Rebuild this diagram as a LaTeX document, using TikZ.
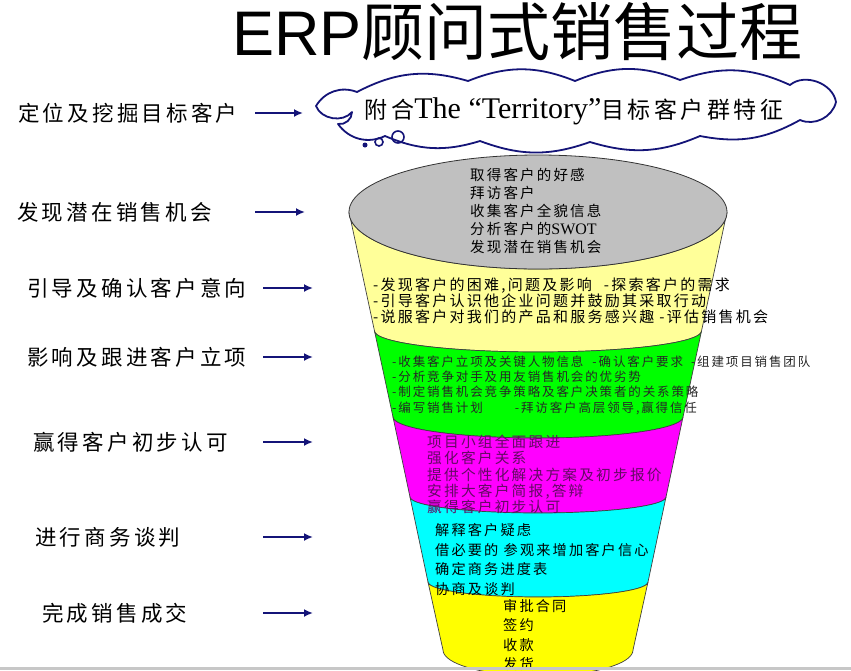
\documentclass[tikz,border=0pt]{standalone}
\usepackage{fontspec}
\setmainfont{Liberation Serif}
\setsansfont{Liberation Sans}
\newfontfamily\cjk{Noto Sans CJK SC}
\newfontfamily\cjkw[LetterSpace=15]{Noto Sans CJK SC}
\usetikzlibrary{arrows.meta}
\definecolor{navy}{RGB}{20,20,120}
\definecolor{paleyellow}{RGB}{255,255,153}
\definecolor{topgray}{RGB}{192,192,192}
\definecolor{bandgreen}{RGB}{0,255,0}
\definecolor{bandmagenta}{RGB}{255,0,255}
\definecolor{bandcyan}{RGB}{0,255,255}
\definecolor{bandyellow}{RGB}{255,255,0}
\definecolor{darkpurple}{RGB}{100,10,100}
\tikzset{
  arr/.style={draw=navy, line width=2.4pt, -{Latex[length=9pt,width=8pt]}},
  lbl/.style={anchor=west, inner sep=0pt, font=\cjkw\fontsize{21.5}{24}\selectfont},
  band/.style={draw=black!75, line width=0.7pt},
  arcpl/.style={domain=180:0, samples=40},
  txt/.style={anchor=west, inner sep=0pt, align=left}
}

\begin{document}
\begin{tikzpicture}[x=1pt, y=-1pt]
\useasboundingbox (0,0) rectangle (851,670);
\fill[white] (0,0) rectangle (851,670);
\node[anchor=base west, inner sep=0pt, font=\fontsize{63}{66}\selectfont] (title) at (232,55) {{\sffamily ERP}{\cjk 顾问式销售过程}};

% cloud
\draw[navy, fill=white, line width=1.8pt, line join=round] (357,92) to[bend left=22] (468,81) to[bend left=22] (575,81) to[bend left=22] (680,80) to[bend left=22] (790,85) to[bend left=60] (836,102) to[bend left=50] (800,120) to[bend left=20] (700,136) to[bend left=20] (590,142) to[bend left=20] (480,141) to[bend left=20] (385,136) to[bend left=40] (338,124) to[bend right=50] (352,112) to[bend left=60] (316,106) to[bend left=40] cycle;
\node[inner sep=0pt] (ctext) at (574,111) {\cjkw\fontsize{23}{26}\selectfont 附合{\rmfamily\fontsize{30}{32}\selectfont The “Territory”}目标客户群特征};
\fill[navy] (365,145) circle (2.5pt);
\draw[navy, line width=1.6pt] (379,142) circle (4pt);
\draw[navy, line width=1.6pt] (398,137) circle (6pt);

% funnel bands
\filldraw[band, fill=paleyellow] (349,212) -- (374.5,331) -- plot[arcpl] ({538+163.5*cos(\x)},{331+21*sin(\x)}) -- (727,212) -- plot[arcpl, domain=0:180] ({538+189*cos(\x)},{212+57*sin(\x)}) -- cycle;
\filldraw[band, fill=bandgreen] (374.5,331) -- (393,417) -- plot[arcpl] ({538+145*cos(\x)},{417+21*sin(\x)}) -- (701.5,331) -- plot[arcpl, domain=0:180] ({538+163.5*cos(\x)},{331+21*sin(\x)}) -- cycle;
\filldraw[band, fill=bandmagenta] (393,417) -- (410,497) -- plot[arcpl] ({538+128*cos(\x)},{497+16*sin(\x)}) -- (683,417) -- plot[arcpl, domain=0:180] ({538+145*cos(\x)},{417+21*sin(\x)}) -- cycle;
\filldraw[band, fill=bandcyan] (410,497) -- (428,582) -- plot[arcpl] ({538+110*cos(\x)},{582+15*sin(\x)}) -- (666,497) -- plot[arcpl, domain=0:180] ({538+128*cos(\x)},{497+16*sin(\x)}) -- cycle;
\filldraw[band, fill=bandyellow] (428,582) -- (443,650) -- plot[arcpl] ({538+95*cos(\x)},{650+26*sin(\x)}) -- (648,582) -- plot[arcpl, domain=0:180] ({538+110*cos(\x)},{582+15*sin(\x)}) -- cycle;
\filldraw[fill=topgray, draw=black!80, line width=0.8pt] (538,212) ellipse [x radius=189pt, y radius=57pt];

% texts in the funnel
\node[txt, font=\cjkw\fontsize{14.5}{18}\selectfont] (top) at (470,211) {取得客户的好感\\拜访客户\\收集客户全貌信息\\分析客户的{\rmfamily\fontsize{16}{18}\selectfont SWOT}\\发现潜在销售机会};
\node[txt, font=\cjkw\fontsize{15}{16}\selectfont] (find) at (373,301) {-发现客户的困难,问题及影响\hspace{12pt}-探索客户的需求\\-引导客户认识他企业问题并鼓励其采取行动\\-说服客户对我们的产品和服务感兴趣\hspace{5pt}-评估销售机会};
\node[txt, font=\cjkw\fontsize{12.5}{15.3}\selectfont, text=black!85] (lead) at (392,385) {-收集客户立项及关键人物信息\hspace{9pt}-确认客户要求\hspace{8pt}-组建项目销售团队\\-分析竞争对手及用友销售机会的优劣势\\-制定销售机会竞争策略及客户决策者的关系策略\\-编写销售计划\hspace{32pt}-拜访客户高层领导,赢得信任};
\node[txt, font=\cjkw\fontsize{14.7}{16.25}\selectfont, text=darkpurple] (follow) at (427,474.5) {项目小组全面跟进\\强化客户关系\\提供个性化解决方案及初步报价\\安排大客户简报,答辩\\赢得客户初步认可};
\node[txt, font=\cjkw\fontsize{14.2}{19.7}\selectfont] (talk) at (435,559.5) {解释客户疑虑\\借必要的 参观来增加客户信心\\确定商务进度表\\协商及谈判};
\node[txt, font=\cjkw\fontsize{14.2}{19.5}\selectfont] (deal) at (503,635) {审批合同\\签约\\收款\\发货};

% steps on the left
\node[lbl] (l1) at (18,113) {定位及挖掘目标客户};
\node[lbl] (l2) at (17,212) {发现潜在销售机会};
\node[lbl] (l3) at (27,288) {引导及确认客户意向};
\node[lbl] (l4) at (27,357) {影响及跟进客户立项};
\node[lbl] (l5) at (33,442) {赢得客户初步认可};
\node[lbl] (l6) at (35,537) {进行商务谈判};
\node[lbl] (l7) at (42,613) {完成销售成交};

\coordinate (s1) at (255,113); \coordinate (e1) at (303,113);
\coordinate (s2) at (255,212); \coordinate (e2) at (305,212);
\coordinate (s3) at (263,288); \coordinate (e3) at (313,288);
\coordinate (s4) at (263,357); \coordinate (e4) at (313,357);
\coordinate (s5) at (263,442); \coordinate (e5) at (313,442);
\coordinate (s6) at (263,537); \coordinate (e6) at (313,537);
\coordinate (s7) at (263,613); \coordinate (e7) at (313,613);
\draw[arr] (s1) -- (e1);
\draw[arr] (s2) -- (e2);
\draw[arr] (s3) -- (e3);
\draw[arr] (s4) -- (e4);
\draw[arr] (s5) -- (e5);
\draw[arr] (s6) -- (e6);
\draw[arr] (s7) -- (e7);

\fill[black!22] (0,667) rectangle (851,670);
\end{tikzpicture}
\end{document}
